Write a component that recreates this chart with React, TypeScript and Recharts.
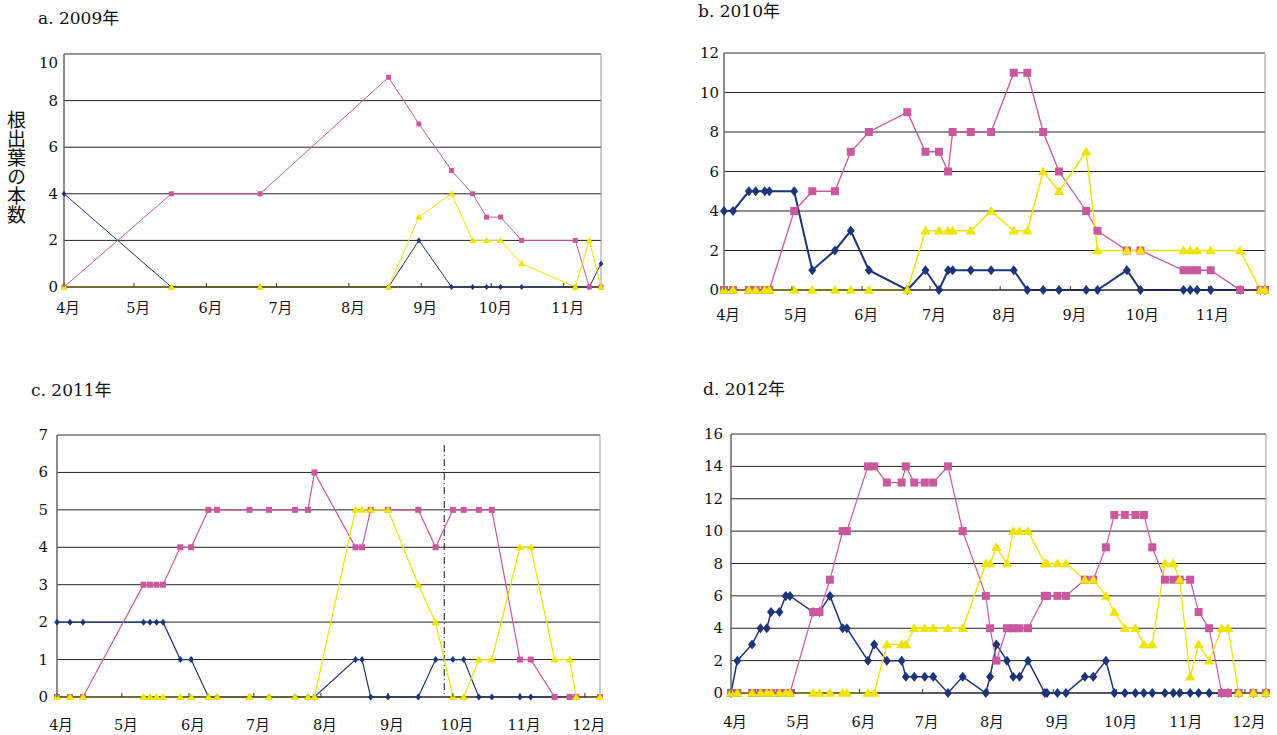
import { LineChart, Line, XAxis, YAxis, CartesianGrid, ReferenceLine } from 'recharts'

// month starts counted in days from April 1
const monthStarts = [0, 30, 61, 91, 122, 153, 183, 214, 244]
const monthLabels = ['4月', '5月', '6月', '7月', '8月', '9月', '10月', '11月', '12月']

const dates2009 = ['4/1', '5/17', '6/24', '8/18', '8/31', '9/14', '9/23', '9/29', '10/5', '10/14', '11/6', '11/12', '11/17']
const blue2009 = [4, 0, 0, 0, 2, 0, 0, 0, 0, 0, 0, 0, 1]
const pink2009 = [0, 4, 4, 9, 7, 5, 4, 3, 3, 2, 2, 0, 0]
const yellow2009 = [0, 0, 0, 0, 3, 4, 2, 2, 2, 1, 0, 2, 0]
const yTicks2009 = [0, 2, 4, 6, 8, 10]

const dates2010 = [
  '4/1', '4/5', '4/12', '4/15', '4/19', '4/21', '5/2', '5/10', '5/20', '5/27', '6/4',
  '6/21', '6/29', '7/5', '7/9', '7/11', '7/19', '7/28', '8/7', '8/13', '8/20', '8/27',
  '9/8', '9/13', '9/26', '10/2', '10/21', '10/24', '10/27', '11/2', '11/15', '11/24', '11/26',
]
const blue2010 = [4, 4, 5, 5, 5, 5, 5, 1, 2, 3, 1, 0, 1, 0, 1, 1, 1, 1, 1, 0, 0, 0, 0, 0, 1, 0, 0, 0, 0, 0, 0, 0, 0]
const pink2010 = [0, 0, 0, 0, 0, 0, 4, 5, 5, 7, 8, 9, 7, 7, 6, 8, 8, 8, 11, 11, 8, 6, 4, 3, 2, 2, 1, 1, 1, 1, 0, 0, 0]
const yellow2010 = [0, 0, 0, 0, 0, 0, 0, 0, 0, 0, 0, 0, 3, 3, 3, 3, 3, 4, 3, 3, 6, 5, 7, 2, 2, 2, 2, 2, 2, 2, 2, 0, 0]
const yTicks2010 = [0, 2, 4, 6, 8, 10, 12]

const dates2011 = [
  '4/1', '4/7', '4/13', '5/11', '5/14', '5/17', '5/20', '5/28', '6/2', '6/10', '6/14',
  '6/29', '7/8', '7/20', '7/26', '7/29', '8/17', '8/20', '8/24', '9/1', '9/15', '9/23',
  '10/1', '10/6', '10/13', '10/19', '11/1', '11/6', '11/17', '11/24', '11/27', '12/8',
]
const blue2011 = [2, 2, 2, 2, 2, 2, 2, 1, 1, 0, 0, 0, 0, 0, 0, 0, 1, 1, 0, 0, 0, 1, 1, 1, 0, 0, 0, 0, 0, 0, 0, 0]
const pink2011 = [0, 0, 0, 3, 3, 3, 3, 4, 4, 5, 5, 5, 5, 5, 5, 6, 4, 4, 5, 5, 5, 4, 5, 5, 5, 5, 1, 1, 0, 0, 0, 0]
const yellow2011 = [0, 0, 0, 0, 0, 0, 0, 0, 0, 0, 0, 0, 0, 0, 0, 0, 5, 5, 5, 5, 3, 2, 0, 0, 1, 1, 4, 4, 1, 1, 0, 0]
const yTicks2011 = [0, 1, 2, 3, 4, 5, 6, 7]
const markDate2011 = '9/27'

const dates2012 = [
  '4/1', '4/4', '4/11', '4/15', '4/18', '4/20', '4/24', '4/27', '4/29', '5/10', '5/13',
  '5/18', '5/24', '5/26', '6/5', '6/8', '6/14', '6/21', '6/23', '6/27', '7/2', '7/6',
  '7/13', '7/20', '7/31', '8/2', '8/5', '8/10', '8/13', '8/16', '8/20', '8/28', '8/29',
  '9/3', '9/7', '9/16', '9/20', '9/26', '9/30', '10/5', '10/10', '10/14', '10/18', '10/24',
  '10/28', '10/31', '11/5', '11/9', '11/14', '11/20', '11/23', '11/28', '12/5', '12/11',
]
const blue2012 = [
  0, 2, 3, 4, 4, 5, 5, 6, 6, 5, 5, 6, 4, 4, 2, 3, 2, 2, 1, 1, 1, 1, 0, 1, 0, 1, 3,
  2, 1, 1, 2, 0, 0, 0, 0, 1, 1, 2, 0, 0, 0, 0, 0, 0, 0, 0, 0, 0, 0, 0, 0, 0, 0, 0,
]
const pink2012 = [
  0, 0, 0, 0, 0, 0, 0, 0, 0, 5, 5, 7, 10, 10, 14, 14, 13, 13, 14, 13, 13, 13, 14, 10, 6, 4, 2,
  4, 4, 4, 4, 6, 6, 6, 6, 7, 7, 9, 11, 11, 11, 11, 9, 7, 7, 7, 7, 5, 4, 0, 0, 0, 0, 0,
]
const yellow2012 = [
  0, 0, 0, 0, 0, 0, 0, 0, 0, 0, 0, 0, 0, 0, 0, 0, 3, 3, 3, 4, 4, 4, 4, 4, 8, 8, 9,
  8, 10, 10, 10, 8, 8, 8, 8, 7, 7, 6, 5, 4, 4, 3, 3, 8, 8, 7, 1, 3, 2, 4, 4, 0, 0, 0,
]
const yTicks2012 = [0, 2, 4, 6, 8, 10, 12, 14, 16]

const SERIF = '"DejaVu Serif", "Noto Sans CJK JP", serif'
const BLUE = '#1b347a'
const PINK = '#c9589e'
const YELLOW = '#efe400'

const dayOf = (md: string) => {
  const [m, d] = md.split('/').map(Number)
  return monthStarts[m - 4] + d - 1
}

const diamondDot = (color: string, r: number) => (p: any) => {
  if (p.cx == null || p.cy == null) return <g key={p.index} />
  const { cx, cy } = p
  const w = r * 0.8
  return <path key={p.index} d={`M${cx},${cy - r}L${cx + w},${cy}L${cx},${cy + r}L${cx - w},${cy}Z`} fill={color} />
}

const squareDot = (color: string, r: number) => (p: any) => {
  if (p.cx == null || p.cy == null) return <g key={p.index} />
  return <rect key={p.index} x={p.cx - r} y={p.cy - r} width={r * 2} height={r * 2} fill={color} />
}

const triangleDot = (color: string, r: number) => (p: any) => {
  if (p.cx == null || p.cy == null) return <g key={p.index} />
  const { cx, cy } = p
  return <path key={p.index} d={`M${cx},${cy - r}L${cx + r * 1.05},${cy + r * 0.75}L${cx - r * 1.05},${cy + r * 0.75}Z`} fill={color} />
}

type PanelProps = {
  title: string
  titleX: number
  titleTop: number
  left: number
  top: number
  width: number
  height: number
  dates: string[]
  blue: number[]
  pink: number[]
  yellow: number[]
  yTicks: number[]
  yGap: number
  topLabelShift?: number
  xLabelDy: number
  marker: [number, number, number]
  stroke: [number, number, number]
  markDate?: string
  markTop?: number
}

const YW = 50
const TM = 10
const RM = 4
const XH = 44

function Panel(p: PanelProps) {
  const rows = p.dates.map((d, i) => ({ day: dayOf(d), blue: p.blue[i], pink: p.pink[i], yellow: p.yellow[i] }))
  const maxDay = rows[rows.length - 1].day
  const yMax = p.yTicks[p.yTicks.length - 1]
  const xTicks = monthStarts.filter((d) => d <= maxDay)

  return (
    <>
      <div style={{ position: 'absolute', left: p.titleX, top: p.titleTop, fontFamily: SERIF, fontSize: 17, lineHeight: '18px', whiteSpace: 'nowrap', color: '#111' }}>
        {p.title}
      </div>
      <div style={{ position: 'absolute', left: p.left - YW, top: p.top - TM }}>
        <LineChart width={p.width + YW + RM} height={p.height + TM + XH} data={rows} margin={{ top: TM, right: RM, bottom: 0, left: 0 }}>
          <CartesianGrid vertical={false} stroke="#222" />
          <XAxis
            type="number"
            dataKey="day"
            domain={[0, maxDay]}
            ticks={xTicks}
            interval={0}
            height={XH}
            tickLine={false}
            tickSize={0}
            tickMargin={0}
            axisLine={{ stroke: '#222' }}
            tick={(t: any) => (
              <g key={t.index}>
                <line x1={t.x} y1={t.y} x2={t.x} y2={t.y - 4} stroke="#333" />
                <text x={t.x + 4} y={t.y + p.xLabelDy} textAnchor="middle" fontFamily={SERIF} fontSize={14.5} fill="#111">
                  {monthLabels[monthStarts.indexOf(t.payload.value)]}
                </text>
              </g>
            )}
          />
          <YAxis
            type="number"
            domain={[0, yMax]}
            ticks={p.yTicks}
            interval={0}
            width={YW}
            tickLine={false}
            tickSize={0}
            tickMargin={0}
            axisLine={{ stroke: '#666', strokeWidth: 1.5 }}
            tick={(t: any) => (
              <text
                key={t.index}
                x={t.x - p.yGap}
                y={t.y + 5 + (t.payload.value === yMax ? p.topLabelShift ?? 0 : 0)}
                textAnchor="end"
                fontFamily={SERIF}
                fontSize={15}
                fill="#111"
              >
                {t.payload.value}
              </text>
            )}
          />
          <ReferenceLine y={yMax} stroke="#9a9a9a" />
          <ReferenceLine x={maxDay} stroke="#9a9a9a" />
          {p.markDate && (
            <ReferenceLine
              segment={[{ x: dayOf(p.markDate), y: p.markTop ?? yMax }, { x: dayOf(p.markDate), y: 0 }]}
              stroke="#111"
              strokeDasharray="7 3 1 3"
            />
          )}
          <Line type="linear" dataKey="blue" stroke={BLUE} strokeWidth={p.stroke[0]} dot={diamondDot(BLUE, p.marker[0])} activeDot={false} isAnimationActive={false} />
          <Line type="linear" dataKey="pink" stroke={PINK} strokeWidth={p.stroke[1]} dot={squareDot(PINK, p.marker[1])} activeDot={false} isAnimationActive={false} />
          <Line type="linear" dataKey="yellow" stroke={YELLOW} strokeWidth={p.stroke[2]} dot={triangleDot(YELLOW, p.marker[2])} activeDot={false} isAnimationActive={false} />
        </LineChart>
      </div>
    </>
  )
}

export default function App() {
  return (
    <div style={{ position: 'absolute', left: 0, top: 0, width: 1277, height: 735, background: '#fff', overflow: 'hidden' }}>
      <div
        style={{
          position: 'absolute',
          left: 6,
          top: 110,
          writingMode: 'vertical-rl',
          fontFamily: '"Noto Sans CJK JP", sans-serif',
          fontSize: 19,
          lineHeight: '20px',
          color: '#111',
        }}
      >
        根出葉の本数
      </div>
      <Panel
        title="a. 2009年"
        titleX={38}
        titleTop={9}
        left={64}
        top={54}
        width={537}
        height={233}
        dates={dates2009}
        blue={blue2009}
        pink={pink2009}
        yellow={yellow2009}
        yTicks={yTicks2009}
        yGap={6}
        topLabelShift={9}
        xLabelDy={26}
        marker={[3, 2.5, 3.5]}
        stroke={[1, 1, 1]}
      />
      <Panel
        title="b. 2010年"
        titleX={698}
        titleTop={2}
        left={724}
        top={53}
        width={541}
        height={237}
        dates={dates2010}
        blue={blue2010}
        pink={pink2010}
        yellow={yellow2010}
        yTicks={yTicks2010}
        yGap={5}
        xLabelDy={30}
        marker={[5, 4, 5]}
        stroke={[2, 1.3, 1.5]}
      />
      <Panel
        title="c. 2011年"
        titleX={31}
        titleTop={381}
        left={57}
        top={435}
        width={543}
        height={262}
        dates={dates2011}
        blue={blue2011}
        pink={pink2011}
        yellow={yellow2011}
        yTicks={yTicks2011}
        yGap={9}
        xLabelDy={33}
        marker={[3.5, 3, 4]}
        stroke={[1.2, 1.2, 1.2]}
        markDate={markDate2011}
        markTop={6.73}
      />
      <Panel
        title="d. 2012年"
        titleX={703}
        titleTop={380}
        left={731}
        top={434}
        width={535}
        height={259}
        dates={dates2012}
        blue={blue2012}
        pink={pink2012}
        yellow={yellow2012}
        yTicks={yTicks2012}
        yGap={8}
        xLabelDy={34}
        marker={[5, 4, 5]}
        stroke={[1.5, 1.2, 1.3]}
      />
    </div>
  )
}
